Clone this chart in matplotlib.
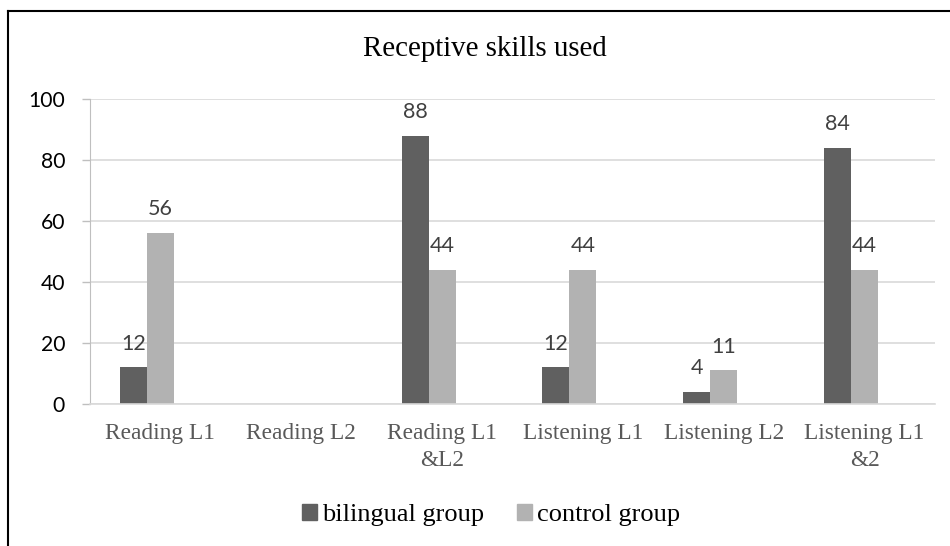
import matplotlib
matplotlib.use("Agg")
import matplotlib.pyplot as plt
from matplotlib.lines import Line2D
from matplotlib.patches import Patch
import numpy as np

categories = ["Reading L1", "Reading L2", "Reading L1\n&L2", "Listening L1", "Listening L2", "Listening L1\n&2"]
bilingual = [12, 0, 88, 12, 4, 84]
control = [56, 0, 44, 44, 11, 44]
yticks = [0, 20, 40, 60, 80, 100]

dark = "#606060"
light = "#b2b2b2"
num_font = "Lato"
serif = "Liberation Serif"

fig = plt.figure(figsize=(9.5, 5.46), dpi=100)
ax = fig.add_axes([90/950, (546-404)/546, (935-90)/950, (404-99)/546])

x = np.arange(len(categories))
w = 0.192
b1 = ax.bar(x - w, bilingual, width=w, color=dark, align="center")
b2 = ax.bar(x, control, width=w, color=light, align="center")

for rects, vals in ((b1, bilingual), (b2, control)):
    for r, v in zip(rects, vals):
        if v == 0:
            continue
        ax.annotate(str(v), (r.get_x() + r.get_width()/2, v), xytext=(0, 10),
                    textcoords="offset points", ha="center", va="bottom",
                    fontsize=15.5, color="#404040", family=num_font)

ax.set_xlim(-0.5, len(categories) - 0.5)
ax.set_ylim(0, 100)
ax.set_yticks(yticks)
ax.set_yticklabels([str(t) for t in yticks], fontsize=15.2, family=num_font, color="black")
ax.set_xticks(x)
ax.set_xticklabels(categories, fontsize=16.8, family=serif, color="#595959", linespacing=1.35)
ax.tick_params(axis="x", length=0, pad=14)
ax.tick_params(axis="y", length=6, width=1, color="#bfbfbf", pad=12)
ax.yaxis.grid(True, color="#d9d9d9", linewidth=1.2)
ax.set_axisbelow(True)
for s in ("top", "right"):
    ax.spines[s].set_visible(False)
ax.spines["left"].set_color("#bfbfbf")
ax.spines["bottom"].set_color("#d9d9d9")
ax.spines["bottom"].set_linewidth(1.2)

fig.text(485/950, (546-49)/546, "Receptive skills used", ha="center", va="center",
         fontsize=20.8, family=serif, color="black")

handles = [Patch(color=dark), Patch(color=light)]
fig.legend(handles, ["bilingual group", "control group"], loc="center",
           bbox_to_anchor=(491/950, (546-515)/546), ncol=2, frameon=False,
           prop={"family": serif, "size": 19}, handlelength=0.57, handleheight=0.57,
           handletextpad=0.2, columnspacing=1.25)

fig.add_artist(Line2D([8/950, 8/950], [0, (546-11)/546], color="black", linewidth=1.5, transform=fig.transFigure))
fig.add_artist(Line2D([8/950, 1], [(546-11)/546, (546-11)/546], color="black", linewidth=1.5, transform=fig.transFigure))

fig.savefig("out.png", dpi=100)
